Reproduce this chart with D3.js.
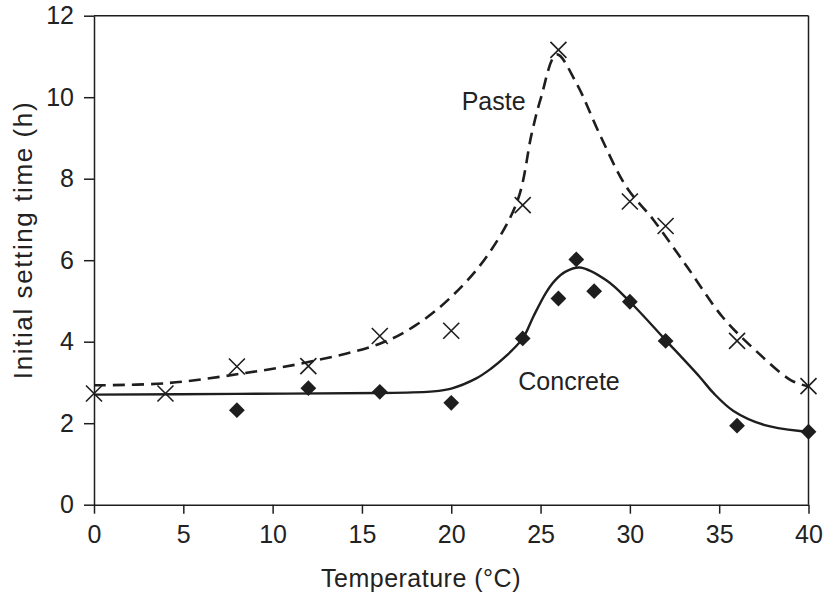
<!DOCTYPE html>
<html>
<head>
<meta charset="utf-8">
<script src="https://cdn.jsdelivr.net/npm/d3@7"></script>
<style>
  body { margin: 0; background: #fff; }
  text { font-family: "Liberation Sans", Arial, sans-serif; fill: #222; }
</style>
</head>
<body>
<div id="chart"></div>
<script>
// measured points
const pasteTemp = [0, 4, 8, 12, 16, 20, 24, 26, 30, 32, 36, 40];
const pasteTime = [2.73, 2.73, 3.39, 3.40, 4.14, 4.27, 7.35, 11.16, 7.44, 6.84, 4.02, 2.91];

const concreteTemp = [8, 12, 16, 20, 24, 26, 27, 28, 30, 32, 36, 40];
const concreteTime = [2.32, 2.86, 2.77, 2.50, 4.08, 5.06, 6.02, 5.24, 4.98, 4.02, 1.94, 1.79];

// fitted curves
const pasteFitTemp = [0, 4, 8, 12, 16, 18, 20, 22, 23.7, 24.5, 25, 25.9, 27, 28.3, 29.8, 31.3, 33.2, 35.2, 37, 39, 40];
const pasteFitTime = [2.93, 2.98, 3.2, 3.5, 3.95, 4.4, 5.1, 6.1, 7.45, 9.1, 9.95, 11.05, 10.35, 9.1, 7.8, 7.0, 5.84, 4.6, 3.8, 3.06, 2.9];

const concreteFitTemp = [0, 8, 16, 19, 20, 21.4, 22.2, 23, 24, 24.6, 25.3, 25.8, 26.4, 27.2, 28.7, 30, 32, 33.9, 34.7, 35.8, 37.5, 39.7, 40];
const concreteFitTime = [2.7, 2.72, 2.74, 2.78, 2.85, 3.1, 3.33, 3.62, 4.08, 4.62, 5.2, 5.5, 5.72, 5.82, 5.5, 4.98, 4.04, 3.14, 2.73, 2.3, 1.96, 1.8, 1.79];

const xTicks = [0, 5, 10, 15, 20, 25, 30, 35, 40];
const yTicks = [0, 2, 4, 6, 8, 10, 12];

const width = 830, height = 599;
const margin = { top: 15.7, right: 21.5, bottom: 94.3, left: 94 };
const chartWidth = width - margin.left - margin.right;
const chartHeight = height - margin.top - margin.bottom;
const ink = "#1e1e1e";

const svg = d3.select("#chart").append("svg")
  .attr("width", width).attr("height", height);

const xScale = d3.scaleLinear().domain([0, 40]).range([0, chartWidth]);
const yScale = d3.scaleLinear().domain([0, 12]).range([chartHeight, 0]);

const g = svg.append("g").attr("transform", `translate(${margin.left},${margin.top})`);

// frame: top and right
g.append("line").attr("x1", 0).attr("x2", chartWidth).attr("y1", 0).attr("y2", 0)
  .attr("stroke", ink).attr("stroke-width", 1.5);
g.append("line").attr("x1", chartWidth).attr("x2", chartWidth).attr("y1", 0).attr("y2", chartHeight)
  .attr("stroke", ink).attr("stroke-width", 1.5);

const xAxis = g.append("g").attr("transform", `translate(0,${chartHeight})`)
  .call(d3.axisBottom(xScale).tickValues(xTicks).tickSize(9).tickSizeOuter(0).tickPadding(12));
const yAxis = g.append("g")
  .call(d3.axisLeft(yScale).tickValues(yTicks).tickSize(10).tickSizeOuter(0).tickPadding(10));

[xAxis, yAxis].forEach(ax => {
  ax.selectAll("path, line").attr("stroke", ink).attr("stroke-width", 1.5);
  ax.selectAll("text").style("font-size", "25px").style("font-family", "Liberation Sans, Arial, sans-serif").attr("fill", "#222");
});

// fitted curves
const pasteFit = pasteFitTemp.map((t, i) => [t, pasteFitTime[i]]);
const concreteFit = concreteFitTemp.map((t, i) => [t, concreteFitTime[i]]);
const line = d3.line().x(d => xScale(d[0])).y(d => yScale(d[1])).curve(d3.curveCatmullRom.alpha(0.5));

g.append("path").datum(pasteFit).attr("d", line)
  .attr("fill", "none").attr("stroke", ink).attr("stroke-width", 2.6)
  .attr("stroke-dasharray", "12,7");
g.append("path").datum(concreteFit).attr("d", line)
  .attr("fill", "none").attr("stroke", ink).attr("stroke-width", 2.4);

// paste crosses
const pasteData = pasteTemp.map((t, i) => ({ t, v: pasteTime[i] }));
const r = 8;
g.selectAll("path.cross").data(pasteData).enter().append("path")
  .attr("class", "cross")
  .attr("transform", d => `translate(${xScale(d.t)},${yScale(d.v)})`)
  .attr("d", `M${-r},${-r}L${r},${r}M${-r},${r}L${r},${-r}`)
  .attr("stroke", ink).attr("stroke-width", 1.6).attr("fill", "none");

// concrete diamonds
const concreteData = concreteTemp.map((t, i) => ({ t, v: concreteTime[i] }));
g.selectAll("path.diamond").data(concreteData).enter().append("path")
  .attr("class", "diamond")
  .attr("transform", d => `translate(${xScale(d.t)},${yScale(d.v)}) rotate(45)`)
  .attr("d", d3.symbol(d3.symbolSquare, 125))
  .attr("fill", ink);

// labels
g.append("text").attr("x", 461.7 - margin.left).attr("y", 110 - margin.top)
  .style("font-size", "25px").text("Paste");
g.append("text").attr("x", 518.3 - margin.left).attr("y", 390 - margin.top)
  .style("font-size", "25px").text("Concrete");

svg.append("text").attr("x", 421).attr("y", 587)
  .attr("text-anchor", "middle").style("font-size", "25px").style("letter-spacing", "0.5px")
  .text("Temperature (°C)");
svg.append("text").attr("transform", `translate(32,240) rotate(-90)`)
  .attr("text-anchor", "middle").style("font-size", "26px").style("letter-spacing", "1.6px")
  .text("Initial setting time (h)");
</script>
</body>
</html>
